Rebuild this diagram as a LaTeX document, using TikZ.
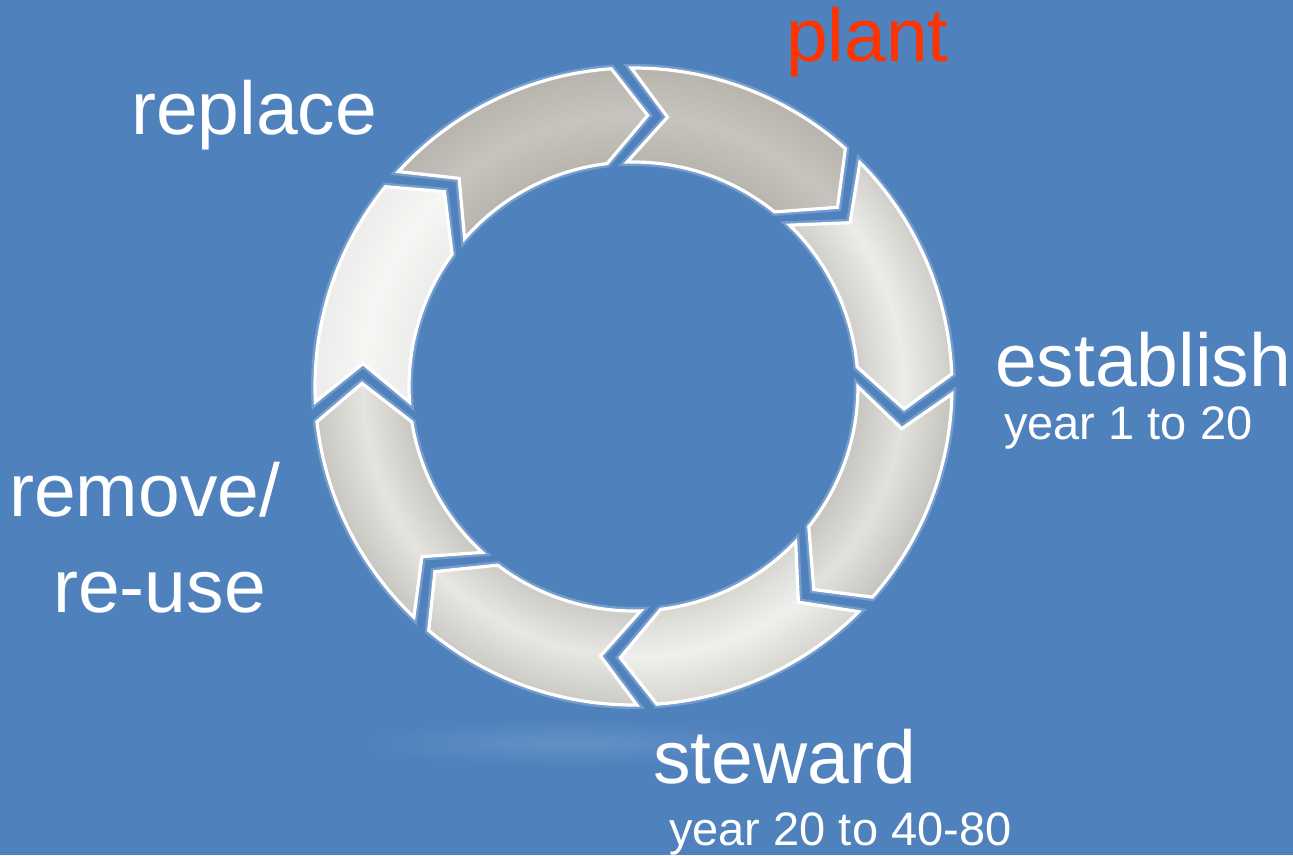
\documentclass[tikz,border=0pt]{standalone}
\usepackage{fontspec}
\setmainfont{Liberation Sans}
\definecolor{bg}{RGB}{79,129,189}
\definecolor{plantred}{RGB}{255,51,0}
\definecolor{gE}{RGB}{182,180,173}
\definecolor{gM}{RGB}{198,196,190}
\definecolor{aE}{RGB}{206,205,200}
\definecolor{aM}{RGB}{236,236,234}
\definecolor{bE}{RGB}{196,195,189}
\definecolor{bM}{RGB}{226,225,221}
\definecolor{cE}{RGB}{214,213,208}
\definecolor{cM}{RGB}{239,239,237}
\definecolor{dE}{RGB}{202,201,196}
\definecolor{dM}{RGB}{232,231,228}
\definecolor{eE}{RGB}{198,197,192}
\definecolor{eM}{RGB}{229,228,224}
\definecolor{fE}{RGB}{236,236,234}
\definecolor{fM}{RGB}{246,246,244}
\newcommand\segpath[2]{([shift={(C)}]{#1-1.8}:318.5pt) arc[start angle={#1-1.8}, end angle={#2+1.8}, radius=318.5pt] -- ([shift={(C)}]{#2-5.2}:271.5pt) -- ([shift={(C)}]{#2+4.55}:224.5pt) arc[start angle={#2+4.55}, end angle={#1-0.55}, radius=224.5pt] -- ([shift={(C)}]{#1-9.4}:271.5pt) -- cycle}
\newcommand\ringseg[3]{%
  \draw[segglow] \segpath{#1}{#2};
  \begin{scope}
    \clip \segpath{#1}{#2};
    \foreach \rr in {322,320,...,222} {
      \pgfmathtruncatemacro\pp{100*max(0,1-abs(\rr-271.5)/50)}
      \fill[#3M!\pp!#3E] (C) circle (\rr pt);
    }
  \end{scope}
  \draw[segborder] \segpath{#1}{#2};
}
\tikzset{
  segglow/.style={white, opacity=0.22, line width=8pt, line join=miter},
  segborder/.style={white, line width=3.2pt, line join=miter},
  biglabel/.style={anchor=base west, inner sep=0pt, font=\fontsize{75}{80}\selectfont, text=white},
  smalllabel/.style={anchor=base west, inner sep=0pt, font=\fontsize{47}{52}\selectfont, text=white}
}
\begin{document}
\begin{tikzpicture}
\useasboundingbox (0,0) rectangle (1293pt,855pt);
\fill[bg] (0,0) rectangle (1293pt,855pt);
\coordinate (C) at (633.5pt,468.5pt);
\shade[inner color=white!12!bg, outer color=bg] (570pt,112pt) ellipse (210pt and 24pt);
\ringseg{139.35}{92.2}{g}
\ringseg{92.2}{46.5}{g}
\ringseg{46.5}{0.45}{a}
\ringseg{0.45}{-43.2}{b}
\ringseg{-43.2}{-87.6}{c}
\ringseg{-87.6}{-131.8}{d}
\ringseg{-131.8}{-175.45}{e}
\ringseg{184.55}{139.35}{f}
\node[biglabel, text=plantred] (plant) at (786pt,793pt) {plant};
\node[biglabel] (replace) at (131pt,720pt) {replace};
\node[biglabel] (establish) at (995pt,468pt) {establish};
\node[smalllabel] (estyear) at (1004pt,415pt) {year 1 to 20};
\node[biglabel] (remove) at (9pt,338pt) {remove/};
\node[biglabel] (reuse) at (53pt,243pt) {re-use};
\node[biglabel] (steward) at (653pt,72pt) {steward};
\node[smalllabel] (stewyear) at (669pt,10pt) {year 20 to 40-80};
\end{tikzpicture}
\end{document}
